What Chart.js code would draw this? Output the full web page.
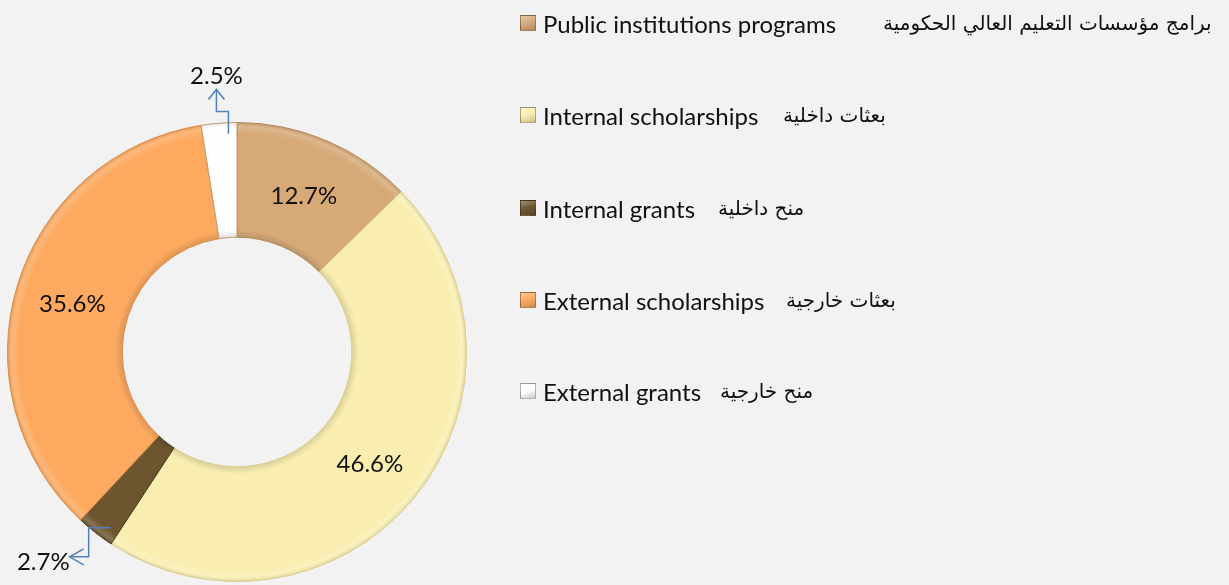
<!DOCTYPE html>
<html>
<head>
<meta charset="utf-8">
<script src="https://cdn.jsdelivr.net/npm/chart.js@4"></script>
<style>
  html, body { margin:0; padding:0; background:#f2f2f2; }
  #wrap { position:relative; width:1229px; height:585px; overflow:hidden; }
  #c { position:absolute; left:0; top:0; }
  .leg { position:absolute; left:520px; height:26px; display:flex; align-items:center; white-space:nowrap; }
  .mk { width:16px; height:16px; box-sizing:border-box; border:1px solid rgba(0,0,0,0.3); margin-right:7px; }
  .en { font-family: Lato, "Open Sans", sans-serif; font-size:24px; color:#111; }
  .ar { position:absolute; top:50%; transform:translateY(-50%); font-family: "DejaVu Sans", sans-serif; font-size:20px; color:#111; direction:rtl; unicode-bidi:isolate; }
</style>
</head>
<body>
<div id="wrap">
<canvas id="c" width="1229" height="585"></canvas>
</div>
<script>
const categoriesEn = ["Public institutions programs", "Internal scholarships", "Internal grants", "External scholarships", "External grants"];
const categoriesAr = ["برامج مؤسسات التعليم العالي الحكومية", "بعثات داخلية", "منح داخلية", "بعثات خارجية", "منح خارجية"];
const values = [12.7, 46.6, 2.7, 35.6, 2.5];
const colors = ["#d6a977", "#f9eeb0", "#6d552f", "#fdaa60", "#fefefe"];
const borders = ["#b48a5c", "#d9cc8c", "#4a3a1e", "#d98a45", "#c09a72"];
const legendTops = [10, 102, 195, 287, 378];
const arLefts = [883, 783, 718, 786, 720];

function shade(hex, f) {
  const n = parseInt(hex.slice(1), 16);
  let r = (n >> 16) & 255, g = (n >> 8) & 255, b = n & 255;
  if (f < 0) { r = r * (1 + f); g = g * (1 + f); b = b * (1 + f); }
  else { r = r + (255 - r) * f; g = g + (255 - g) * f; b = b + (255 - b) * f; }
  return 'rgb(' + Math.round(r) + ',' + Math.round(g) + ',' + Math.round(b) + ')';
}

// legend
const wrap = document.getElementById('wrap');
categoriesEn.forEach((t, i) => {
  const d = document.createElement('div');
  d.className = 'leg';
  d.style.top = legendTops[i] + 'px';
  const m = document.createElement('div');
  m.className = 'mk';
  m.style.background = 'linear-gradient(160deg, ' + shade(colors[i], 0.35) + ', ' + colors[i] + ' 50%, ' + shade(colors[i], -0.2) + ')';
  const e = document.createElement('span');
  e.className = 'en'; e.textContent = t;
  const a = document.createElement('span');
  a.className = 'ar'; a.textContent = categoriesAr[i];
  a.style.left = (arLefts[i] - 520) + 'px';
  d.appendChild(m); d.appendChild(e); d.appendChild(a);
  wrap.appendChild(d);
});

function bevelFill(context) {
  const i = context.dataIndex;
  const chart = context.chart;
  const ca = chart.chartArea;
  if (!ca) return colors[i];
  const cx = (ca.left + ca.right) / 2, cy = (ca.top + ca.bottom) / 2;
  const outer = Math.min(ca.right - ca.left, ca.bottom - ca.top) / 2;
  const inner = outer * 0.5;
  const g = chart.ctx.createRadialGradient(cx, cy, inner, cx, cy, outer);
  const c = colors[i];
  g.addColorStop(0, shade(c, -0.12));
  g.addColorStop(0.06, c);
  g.addColorStop(0.9, c);
  g.addColorStop(0.96, shade(c, 0.18));
  g.addColorStop(1, shade(c, -0.1));
  return g;
}

const labelPlugin = {
  id: 'pctLabels',
  afterDatasetsDraw(chart) {
    const ctx = chart.ctx;
    const meta = chart.getDatasetMeta(0);
    ctx.save();
    ctx.font = '24px Lato, "Open Sans", sans-serif';
    ctx.fillStyle = '#111';
    ctx.textAlign = 'center';
    ctx.textBaseline = 'middle';
    meta.data.forEach((arc, i) => {
      const txt = values[i].toFixed(1) + '%';
      const p = arc.getProps(['x','y','startAngle','endAngle','outerRadius','innerRadius'], true);
      if (i === 4) {
        const a = p.startAngle + 0.75 * (p.endAngle - p.startAngle);
        const r = p.outerRadius - 11;
        const sx = p.x + Math.cos(a) * r, sy = p.y + Math.sin(a) * r;
        const ly = p.y - p.outerRadius - 11;
        const tx = sx - 12, ty = ly - 22;
        ctx.strokeStyle = '#4f81bd'; ctx.lineWidth = 1.5;
        ctx.beginPath(); ctx.moveTo(sx, sy); ctx.lineTo(sx, ly); ctx.lineTo(tx, ly); ctx.lineTo(tx, ty); ctx.stroke();
        ctx.beginPath(); ctx.moveTo(tx - 8, ty + 10); ctx.lineTo(tx, ty); ctx.lineTo(tx + 8, ty + 10); ctx.stroke();
        ctx.fillText(txt, tx, ty - 13);
      } else if (i === 2) {
        const a = p.startAngle + 0.25 * (p.endAngle - p.startAngle);
        const r = p.outerRadius - 13;
        const sx = p.x + Math.cos(a) * r, sy = p.y + Math.sin(a) * r;
        const vx = sx - 22, vy = sy + 29;
        const tipx = vx - 19;
        ctx.strokeStyle = '#4f81bd'; ctx.lineWidth = 1.5;
        ctx.beginPath(); ctx.moveTo(sx, sy); ctx.lineTo(vx, sy); ctx.lineTo(vx, vy); ctx.lineTo(tipx, vy); ctx.stroke();
        ctx.beginPath(); ctx.moveTo(tipx + 14, vy - 8); ctx.lineTo(tipx, vy); ctx.lineTo(tipx + 14, vy + 8); ctx.stroke();
        ctx.textAlign = 'right';
        ctx.fillText(txt, tipx, vy + 5);
        ctx.textAlign = 'center';
      } else {
        const c = arc.getCenterPoint();
        ctx.fillText(txt, c.x, c.y + 3);
      }
    });
    ctx.restore();
  }
};

new Chart(document.getElementById('c'), {
  type: 'doughnut',
  data: {
    labels: categoriesEn,
    datasets: [{
      data: values,
      backgroundColor: bevelFill,
      borderColor: borders,
      borderWidth: 1
    }]
  },
  options: {
    responsive: false,
    animation: false,
    devicePixelRatio: 1,
    cutout: '50%',
    layout: { padding: { left: 7, right: 762, top: 122, bottom: 3 } },
    plugins: { legend: { display: false }, tooltip: { enabled: false } }
  },
  plugins: [labelPlugin]
});
</script>
</body>
</html>
